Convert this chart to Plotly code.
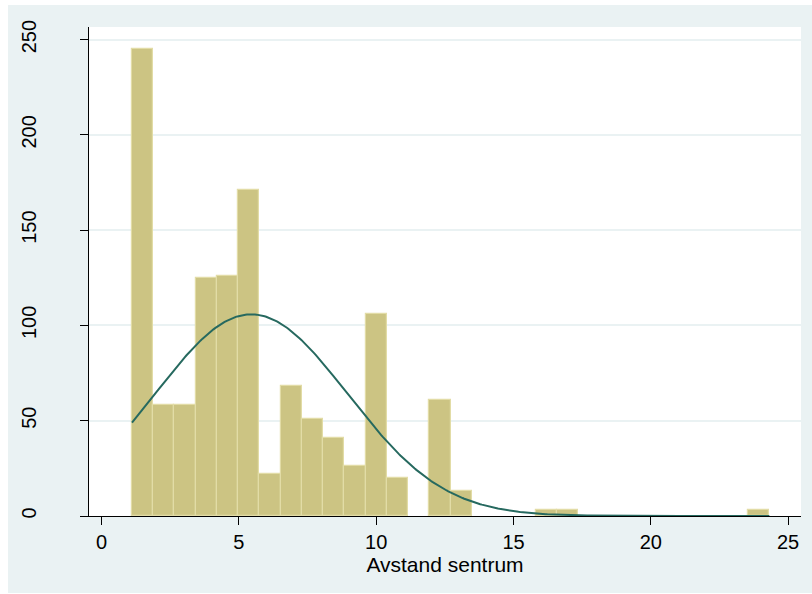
import numpy as np
import plotly.graph_objects as go

# ---- data ----
bin_start = 1.107
bin_width = 0.7737
counts = [245, 58, 58, 125, 126, 171, 22, 68, 51, 41, 26, 106, 20, 0, 61, 13,
          0, 0, 0, 3, 3, 0, 0, 0, 0, 0, 0, 0, 0, 3]
normal_mean = 5.45
normal_sd = 3.50
x_ticks = [0, 5, 10, 15, 20, 25]
y_ticks = [0, 50, 100, 150, 200, 250]
x_title = "Avstand sentrum"

# ---- derived ----
n_total = sum(counts)
centers = [bin_start + bin_width * (i + 0.5) for i in range(len(counts))]
bx = [c for c, v in zip(centers, counts) if v > 0]
by = [v for v in counts if v > 0]
x_end = bin_start + bin_width * len(counts)
xs = np.linspace(bin_start, x_end, 400)
ys = n_total * bin_width / (normal_sd * np.sqrt(2 * np.pi)) * np.exp(-0.5 * ((xs - normal_mean) / normal_sd) ** 2)

FONT = "Arial, Liberation Sans, Helvetica, sans-serif"
BG = "#EAF2F3"

fig = go.Figure()
fig.add_trace(go.Bar(x=bx, y=by, width=bin_width,
                     marker=dict(color="#CCC483", line=dict(color="#E2DCA6", width=1.2)),
                     hoverinfo="skip"))
fig.add_trace(go.Scatter(x=xs, y=ys, mode="lines",
                         line=dict(color="#26695F", width=2), hoverinfo="skip"))

W, H = 812, 594
ml, mr, mt, mb = 89, 11, 27, 78
pw, ph = W - ml - mr, H - mt - mb

def px_to_paper_x(px):
    return (px - ml) / pw

def px_to_paper_y(py):
    return (H - mb - py) / ph

fig.add_shape(type="rect", xref="paper", yref="paper", layer="below",
              x0=px_to_paper_x(8), x1=px_to_paper_x(812),
              y0=px_to_paper_y(593), y1=px_to_paper_y(5),
              fillcolor=BG, line=dict(width=0))
fig.add_shape(type="rect", xref="paper", yref="paper", layer="below",
              x0=0, x1=1, y0=0, y1=1, fillcolor="white", line=dict(width=0))

fig.update_layout(
    width=W, height=H,
    margin=dict(l=ml, r=mr, t=mt, b=mb, pad=0),
    paper_bgcolor="white", plot_bgcolor="rgba(0,0,0,0)",
    showlegend=False, bargap=0,
    font=dict(family=FONT, color="#000000"),
    xaxis=dict(range=[-0.459, 25.47], tickvals=x_ticks, ticks="outside", ticklen=8,
               tickcolor="#000000", tickwidth=1, showline=True, linecolor="#000000",
               linewidth=1, showgrid=False, zeroline=False,
               tickfont=dict(size=20, family=FONT),
               title=dict(text=x_title, font=dict(size=21, family=FONT), standoff=4)),
    yaxis=dict(range=[0, 256.6], tickvals=y_ticks, ticks="outside", ticklen=8,
               tickcolor="#000000", tickwidth=1, showline=True, linecolor="#000000",
               linewidth=1, showgrid=True, gridcolor=BG, gridwidth=1.5, zeroline=False,
               tickangle=-90, tickfont=dict(size=20, family=FONT),
               ticklabelstandoff=36),
)

fig.write_html("out.html", config={"displayModeBar": False},
               post_script="document.body.style.margin='0';document.body.style.overflow='hidden';")
